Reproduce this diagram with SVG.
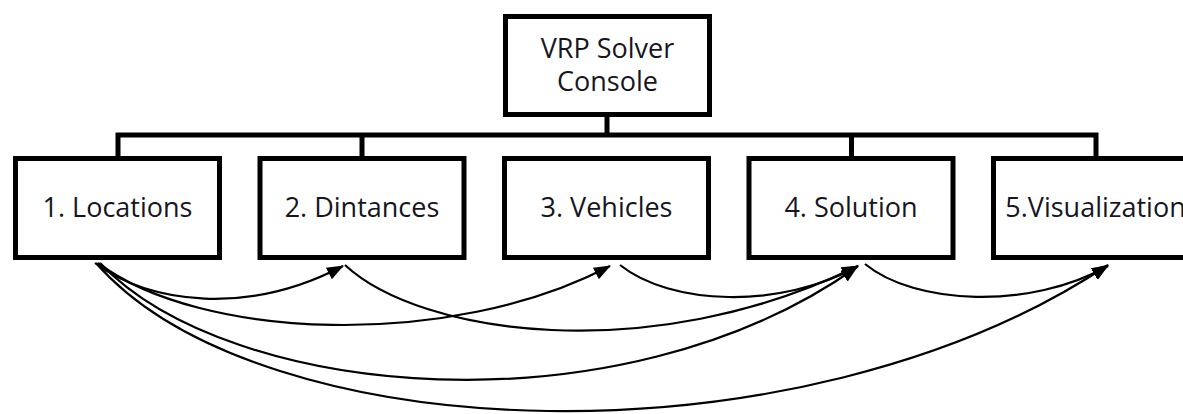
<svg xmlns="http://www.w3.org/2000/svg" width="1183" height="414" viewBox="0 0 1183 414">
  <style>
    .box { fill: #ffffff; stroke: #000000; stroke-width: 5; }
    .bus { fill: none; stroke: #000000; stroke-width: 5; stroke-linejoin: miter; }
    .label { font-family: "Open Sans", "Noto Sans", "Liberation Sans", sans-serif; font-size: 27px; fill: #16161e; text-anchor: middle; }
    .flow { fill: none; stroke: #000000; stroke-width: 2.2; marker-end: url(#arrow); }
  </style>
  <defs>
    <marker id="arrow" markerUnits="userSpaceOnUse" markerWidth="17" markerHeight="13" refX="16" refY="6.5" orient="auto">
      <path d="M0,0 L17,6.5 L0,13 Z" fill="#000000"/>
    </marker>
  </defs>
  <rect width="1183" height="414" fill="#ffffff"/>

  <!-- hierarchy bus from the console to the five modules -->
  <g id="hierarchy">
    <path class="bus" d="M607,117 V135"/>
    <path class="bus" d="M118,157 V135 H1096 V157"/>
    <path class="bus" d="M362,135 V157"/>
    <path class="bus" d="M851.5,135 V157"/>
  </g>

  <g id="console">
    <rect class="box" x="505.5" y="16.5" width="204" height="98"/>
    <text class="label" x="607.5" y="58">VRP Solver</text>
    <text class="label" x="607.5" y="91">Console</text>
  </g>

  <g id="locations">
    <rect class="box" x="15.5" y="158.5" width="204" height="99"/>
    <text class="label" x="117.5" y="217">1. Locations</text>
  </g>
  <g id="distances">
    <rect class="box" x="260" y="158.5" width="204" height="99"/>
    <text class="label" x="362" y="217">2. Dintances</text>
  </g>
  <g id="vehicles">
    <rect class="box" x="504.5" y="158.5" width="204" height="99"/>
    <text class="label" x="606.5" y="217">3. Vehicles</text>
  </g>
  <g id="solution">
    <rect class="box" x="749" y="158.5" width="204" height="99"/>
    <text class="label" x="851" y="217">4. Solution</text>
  </g>
  <g id="visualization">
    <rect class="box" x="993.5" y="158.5" width="204" height="99"/>
    <text class="label" x="1095.5" y="217">5.Visualization</text>
  </g>

  <!-- data flow between modules -->
  <g id="connectors">
    <path class="flow" d="M95,263 C150,305 250,315 343,266"/>
    <path class="flow" d="M98,263 C200,340 450,350 610,266"/>
    <path class="flow" d="M100,263 C230,400 620,435 857,267"/>
    <path class="flow" d="M96,263 C260,450 800,470 1108,265"/>
    <path class="flow" d="M345,265 C420,335 650,368 858,266"/>
    <path class="flow" d="M620,265 C670,305 780,310 858,266"/>
    <path class="flow" d="M865,264 C915,305 1030,310 1108,266"/>
  </g>
</svg>
